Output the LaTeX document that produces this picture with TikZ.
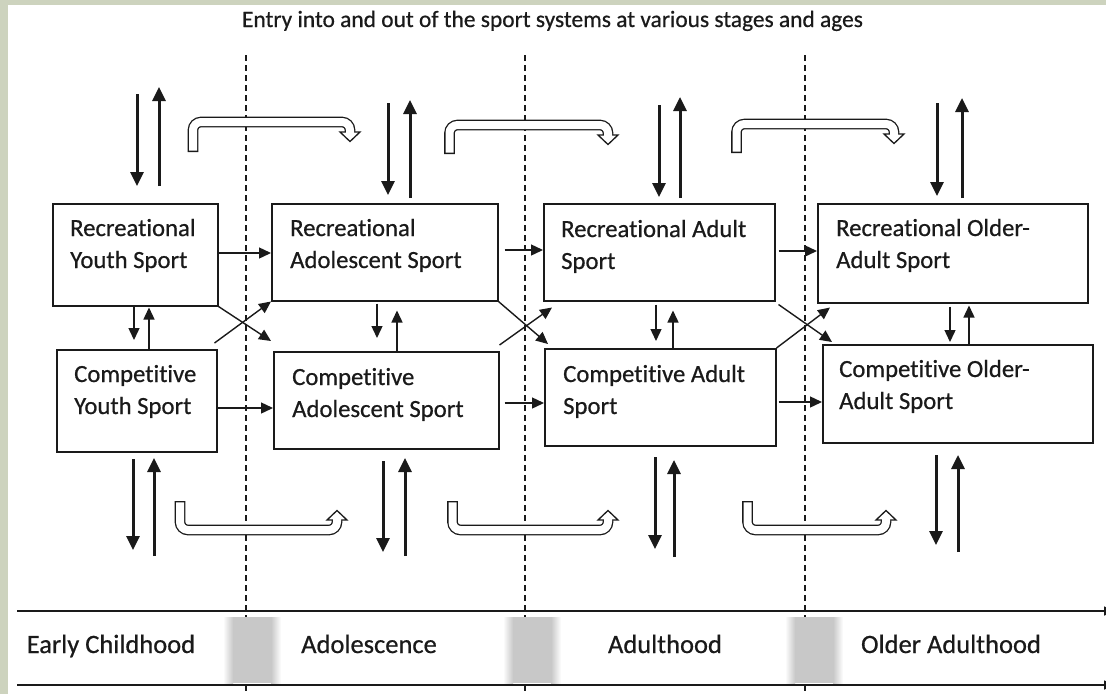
\documentclass[tikz,border=0pt]{standalone}
\usepackage{fontspec}
\setmainfont{Carlito}[Ligatures=NoCommon, FakeBold=0.6]
\usetikzlibrary{arrows.meta,calc}
\definecolor{framegreen}{HTML}{CDD3BE}
\definecolor{bandgray}{HTML}{C8C8C8}
\definecolor{ink}{HTML}{1A1A1A}

\begin{document}
\begin{tikzpicture}[x=1pt,y=-1pt,
  box/.style={draw=ink, line width=1.5pt, rectangle, inner sep=0pt, anchor=north west},
  lbl/.style={inner sep=0pt, anchor=base west, font=\fontsize{24.7}{32}\selectfont, text=ink},
  thinarr/.style={draw=ink, line width=1.4pt, -{Triangle[length=12pt,width=11pt]}},
  thickarr/.style={draw=ink, line width=3pt, -{Triangle[length=14pt,width=13pt]}},
  divider/.style={draw=ink, line width=1.3pt, dash pattern=on 6pt off 4pt},
  axis/.style={draw=ink, line width=1.6pt, -{Triangle[length=10pt,width=9pt]}},
  era/.style={anchor=base, inner sep=0pt, font=\fontsize{26.5}{30}\selectfont, text=ink},
  hollowbody/.style={draw=ink, line width=10.6pt, rounded corners=8pt},
  hollowcore/.style={draw=white, line width=8pt, rounded corners=8pt, shorten <=1.3pt, shorten >=-2.5pt},
  hollowhead/.style={draw=ink, fill=white, line width=1.3pt, line join=miter},
]
\useasboundingbox (0,0) rectangle (1106,694);
% frame and paper
\fill[framegreen] (0,0) rectangle (1106,694);
\fill[white] (8,5) rectangle (1106,694);

% title
\node[anchor=base, inner sep=0pt, font=\fontsize{23.4}{28}\selectfont, text=ink] (title) at (552.5,27)
  {Entry into and out of the sport systems at various stages and ages};

% stage dividers
\draw[divider] (246,55) -- (246,700);
\draw[divider] (525,55) -- (525,700);
\draw[divider] (805,55) -- (805,700);

% time axis
\draw[axis] (17,611) -- (1114,611);
\draw[axis] (17,685) -- (1114,685);
\foreach \a in {223,503,785}{
  \shade[left color=white, right color=bandgray] (\a,617) rectangle (\a+10,683);
  \fill[bandgray] (\a+10,617) rectangle (\a+48,683);
  \shade[left color=bandgray, right color=white] (\a+48,617) rectangle (\a+58,683);
}
\node[era] (e1) at (111,653) {Early Childhood};
\node[era] (e2) at (369,653) {Adolescence};
\node[era] (e3) at (665,653) {Adulthood};
\node[era] (e4) at (951,653) {Older Adulthood};

% sport system boxes
\node[box, minimum width=165, minimum height=102] (ry) at (52,203) {};
\node[box, minimum width=160, minimum height=102] (cy) at (56,349) {};
\node[box, minimum width=226, minimum height=97]  (ra) at (271,203) {};
\node[box, minimum width=225, minimum height=97]  (ca) at (273,351) {};
\node[box, minimum width=231, minimum height=97]  (rd) at (543,203) {};
\node[box, minimum width=231, minimum height=97]  (cd) at (544,348) {};
\node[box, minimum width=270, minimum height=99]  (ro) at (817,203) {};
\node[box, minimum width=270, minimum height=98]  (co) at (822,344) {};

\node[lbl] (ryt) at ($(ry.north west)+(18,33)$) {\begin{tabular}[t]{@{}l@{}}Recreational\\Youth Sport\end{tabular}};
\node[lbl] (cyt) at ($(cy.north west)+(18,33)$) {\begin{tabular}[t]{@{}l@{}}Competitive\\Youth Sport\end{tabular}};
\node[lbl] (rat) at ($(ra.north west)+(19,33)$) {\begin{tabular}[t]{@{}l@{}}Recreational\\Adolescent Sport\end{tabular}};
\node[lbl] (cat) at ($(ca.north west)+(19,34)$) {\begin{tabular}[t]{@{}l@{}}Competitive\\Adolescent Sport\end{tabular}};
\node[lbl] (rdt) at ($(rd.north west)+(18,34)$) {\begin{tabular}[t]{@{}l@{}}Recreational Adult\\Sport\end{tabular}};
\node[lbl] (cdt) at ($(cd.north west)+(19,34)$) {\begin{tabular}[t]{@{}l@{}}Competitive Adult\\Sport\end{tabular}};
\node[lbl] (rot) at ($(ro.north west)+(19,33)$) {\begin{tabular}[t]{@{}l@{}}Recreational Older-\\Adult Sport\end{tabular}};
\node[lbl] (cot) at ($(co.north west)+(17,33)$) {\begin{tabular}[t]{@{}l@{}}Competitive Older-\\Adult Sport\end{tabular}};

% progression to the next stage
\draw[thinarr] (ry.east |- 0,253) -- (ra.west |- 0,253);
\draw[thinarr] (cy.east |- 0,408) -- (ca.west |- 0,408);
\draw[thinarr] ($(ra.east |- 0,250)+(6,0)$) -- (rd.west |- 0,250);
\draw[thinarr] ($(ca.east |- 0,403)+(5,0)$) -- (cd.west |- 0,403);
\draw[thinarr] ($(rd.east |- 0,251)+(3,0)$) -- (ro.west |- 0,251);
\draw[thinarr] ($(cd.east |- 0,402)+(2,0)$) -- (co.west |- 0,402);

% switching between recreational and competitive across stages
\draw[thinarr] (ry.south east) -- ($(ca.north west)+(-2,-10)$);
\draw[thinarr] ($(cy.north east)+(-3,-6)$) -- (ra.south west);
\draw[thinarr] (ra.south east) -- ($(cd.north west)+(4,-4)$);
\draw[thinarr] ($(ca.north east)+(0,-6)$) -- ($(rd.south west)+(9,6)$);
\draw[thinarr] ($(rd.south east)+(3,3)$) -- ($(co.north west)+(10,-2)$);
\draw[thinarr] (cd.north east) -- ($(ro.south west)+(13,4)$);

% switching within a stage
\draw[thinarr] (ry.south -| 134,0) -- ($(cy.north -| 134,0)+(0,-9)$);
\draw[thinarr] (cy.north -| 149,0) -- ($(ry.south -| 149,0)+(0,1)$);
\draw[thinarr] ($(ra.south -| 377,0)+(0,2)$) -- ($(ca.north -| 377,0)+(0,-13)$);
\draw[thinarr] (ca.north -| 397,0) -- ($(ra.south -| 397,0)+(0,9)$);
\draw[thinarr] ($(rd.south -| 656,0)+(0,3)$) -- ($(cd.north -| 656,0)+(0,-7)$);
\draw[thinarr] (cd.north -| 673,0) -- ($(rd.south -| 673,0)+(0,9)$);
\draw[thinarr] ($(ro.south -| 950,0)+(0,3)$) -- ($(co.north -| 950,0)+(0,-2)$);
\draw[thinarr] (co.north -| 969,0) -- ($(ro.south -| 969,0)+(0,2)$);

% entry and exit, recreational side
\draw[thickarr] (137,94) -- (137,186);
\draw[thickarr] (159,186) -- (159,87);
\draw[thickarr] (388,103) -- (388,195);
\draw[thickarr] (410,198) -- (410,100);
\draw[thickarr] (659,105) -- (659,197);
\draw[thickarr] (680,198) -- (680,97);
\draw[thickarr] (937,103) -- (937,196);
\draw[thickarr] (962,198) -- (962,98);

% entry and exit, competitive side
\draw[thickarr] (133,459) -- (133,550);
\draw[thickarr] (154,556) -- (154,458);
\draw[thickarr] (383,461) -- (383,552);
\draw[thickarr] (405,556) -- (405,458);
\draw[thickarr] (655,457) -- (655,549);
\draw[thickarr] (674,557) -- (674,460);
\draw[thickarr] (936,455) -- (936,545);
\draw[thickarr] (958,552) -- (958,455);

% re-entry at a later stage (recreational)
\draw[hollowbody] (193,152) -- (193,122) -- (350,122) -- (350,132);
\draw[hollowhead] (340,132) -- (360,132) -- (350,141.5) -- cycle;
\draw[hollowcore] (193,152) -- (193,122) -- (350,122) -- (350,132);

\draw[hollowbody] (449.5,154) -- (449.5,125) -- (608,125) -- (608,135);
\draw[hollowhead] (598,135) -- (618,135) -- (608,144.5) -- cycle;
\draw[hollowcore] (449.5,154) -- (449.5,125) -- (608,125) -- (608,135);

\draw[hollowbody] (736.5,153) -- (736.5,124) -- (894,124) -- (894,134);
\draw[hollowhead] (884,134) -- (904,134) -- (894,143.5) -- cycle;
\draw[hollowcore] (736.5,153) -- (736.5,124) -- (894,124) -- (894,134);

% re-entry at a later stage (competitive)
\draw[hollowbody] (180,501) -- (180,530) -- (337,530) -- (337,520);
\draw[hollowhead] (327,520) -- (347,520) -- (337,510.5) -- cycle;
\draw[hollowcore] (180,501) -- (180,530) -- (337,530) -- (337,520);

\draw[hollowbody] (452.5,501) -- (452.5,530) -- (608,530) -- (608,520);
\draw[hollowhead] (598,520) -- (618,520) -- (608,510.5) -- cycle;
\draw[hollowcore] (452.5,501) -- (452.5,530) -- (608,530) -- (608,520);

\draw[hollowbody] (747.5,501) -- (747.5,530) -- (886,530) -- (886,520);
\draw[hollowhead] (876,520) -- (896,520) -- (886,510.5) -- cycle;
\draw[hollowcore] (747.5,501) -- (747.5,530) -- (886,530) -- (886,520);
\end{tikzpicture}
\end{document}
